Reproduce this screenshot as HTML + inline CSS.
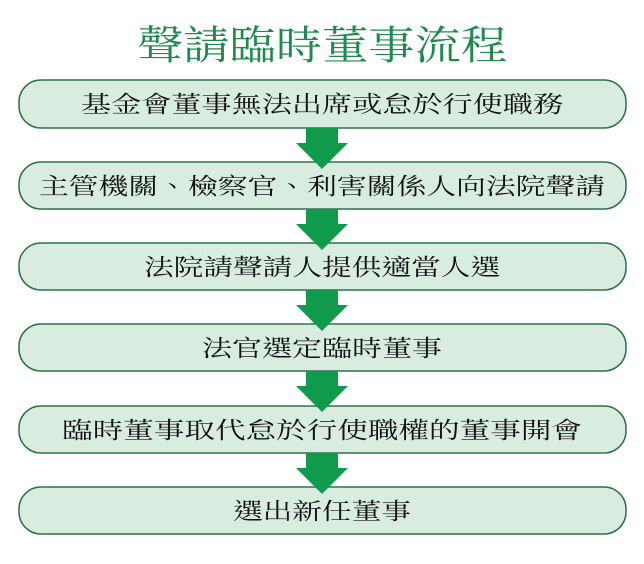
<!DOCTYPE html>
<html><head><meta charset="utf-8"><style>
html,body{margin:0;padding:0;background:#fff;}
svg{display:block}
text{font-family:"Liberation Serif","Noto Serif CJK TC","Noto Serif CJK SC",serif;}
</style></head><body>
<svg width="644" height="564" viewBox="0 0 644 564" xmlns="http://www.w3.org/2000/svg">
<text x="322" y="59" text-anchor="middle" font-size="40" fill="#1e8a4e" textLength="370" lengthAdjust="spacingAndGlyphs">聲請臨時董事流程</text>
<g fill="#d8ecdf" stroke="#2f7048" stroke-width="1.5">
<rect x="19" y="80" width="607" height="48" rx="22"/>
<rect x="19" y="162" width="607" height="47" rx="22"/>
<rect x="19" y="243" width="607" height="47" rx="22"/>
<rect x="19" y="324" width="607" height="47" rx="22"/>
<rect x="19" y="406" width="607" height="47" rx="22"/>
<rect x="19" y="487" width="607" height="47" rx="22"/>
</g>
<g fill="#0f9a4c">
<polygon points="306,128 338,128 338,143 348,143 322,169 296,143 306,143"/>
<polygon points="306,209 338,209 338,224 348,224 322,250 296,224 306,224"/>
<polygon points="306,290 338,290 338,305 348,305 322,331 296,305 306,305"/>
<polygon points="306,371 338,371 338,386 348,386 322,412 296,386 306,386"/>
<polygon points="306,453 338,453 338,468 348,468 322,494 296,468 306,468"/>
</g>
<g font-size="23" fill="#111" text-anchor="middle">
<text x="322" y="112" textLength="482" lengthAdjust="spacingAndGlyphs">基金會董事無法出席或怠於行使職務</text>
<text x="322" y="194" textLength="566" lengthAdjust="spacingAndGlyphs">主管機關、檢察官、利害關係人向法院聲請</text>
<text x="322" y="275" textLength="356" lengthAdjust="spacingAndGlyphs">法院請聲請人提供適當人選</text>
<text x="322" y="356" textLength="240" lengthAdjust="spacingAndGlyphs">法官選定臨時董事</text>
<text x="322" y="438" textLength="520" lengthAdjust="spacingAndGlyphs">臨時董事取代怠於行使職權的董事開會</text>
<text x="322" y="519" textLength="178" lengthAdjust="spacingAndGlyphs">選出新任董事</text>
</g>
</svg>
</body></html>
